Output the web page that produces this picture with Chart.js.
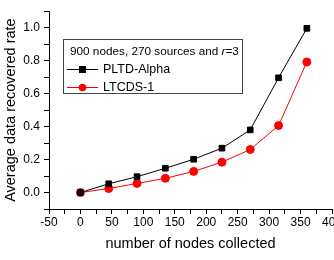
<!DOCTYPE html>
<html>
<head>
<meta charset="utf-8">
<script src="https://cdn.jsdelivr.net/npm/chart.js@4"></script>
<style>
  html, body { margin: 0; padding: 0; background: #fff; overflow: hidden; }
  #wrap { width: 345px; height: 260px; }
</style>
</head>
<body>
<div id="wrap"><canvas id="chart"></canvas></div>
<script>
const nodesCollected = [0, 45, 90, 135, 180, 225, 270, 315, 360];
const pltdAlpha = [0, 0.053, 0.096, 0.147, 0.202, 0.269, 0.38, 0.696, 0.996];
const ltcds1 = [0, 0.024, 0.055, 0.086, 0.128, 0.184, 0.261, 0.406, 0.792];
const seriesNames = ['PLTD-Alpha', 'LTCDS-1'];
const legendTitle = '900 nodes, 270 sources and ';

const font = 'Liberation Sans, Arial, sans-serif';

// legend box drawn inside the plot, like the original figure
const boxLegend = {
    id: 'boxLegend',
    afterDraw(chart){
        const ctx = chart.ctx;
        const x0 = 63, y0 = 39, w = 179, h = 54;
        ctx.save();
        ctx.fillStyle = '#fff';
        ctx.fillRect(x0, y0, w, h);
        ctx.strokeStyle = '#444';
        ctx.lineWidth = 1;
        ctx.strokeRect(x0 + 0.5, y0 + 0.5, w, h);

        ctx.fillStyle = '#000';
        ctx.textBaseline = 'middle';
        ctx.font = '11.75px ' + font;
        ctx.fillText(legendTitle, 70, 52);
        let tw = ctx.measureText(legendTitle).width;
        ctx.font = 'italic 11.75px ' + font;
        ctx.fillText('r', 70 + tw, 52);
        tw += ctx.measureText('r').width;
        ctx.font = '11.75px ' + font;
        ctx.fillText('=3', 70 + tw, 52);

        const rows = [
            {y: 69, color: '#000', shape: 'rect'},
            {y: 87, color: '#ff0000', shape: 'circle'}
        ];
        rows.forEach((r, i) => {
            ctx.strokeStyle = r.color;
            ctx.beginPath();
            ctx.moveTo(67, r.y + 0.5);
            ctx.lineTo(98, r.y + 0.5);
            ctx.stroke();
            ctx.fillStyle = r.color;
            if(r.shape === 'rect'){
                ctx.fillRect(79, r.y - 3, 7, 7);
            } else {
                ctx.beginPath();
                ctx.arc(82.5, r.y + 0.5, 3.8, 0, Math.PI * 2);
                ctx.fill();
            }
            ctx.fillStyle = '#000';
            ctx.font = '12.5px ' + font;
            ctx.fillText(seriesNames[i], 103, r.y + 1);
        });
        ctx.restore();
    }
};

const ctx = document.getElementById('chart').getContext('2d');
new Chart(ctx, {
    type: 'line',
    data: {
        datasets: [{
            label: seriesNames[0],
            data: nodesCollected.map((x, i) => ({x: x, y: pltdAlpha[i]})),
            borderColor: '#000',
            backgroundColor: '#000',
            borderWidth: 1,
            pointStyle: 'rect',
            pointRadius: 4,
            tension: 0
        }, {
            label: seriesNames[1],
            data: nodesCollected.map((x, i) => ({x: x, y: ltcds1[i]})),
            borderColor: '#ff0000',
            backgroundColor: '#ff0000',
            borderWidth: 1,
            pointStyle: 'circle',
            pointRadius: 4,
            tension: 0
        }]
    },
    options: {
        responsive: true,
        maintainAspectRatio: false,
        animation: false,
        layout: { padding: { top: 5, right: 13, left: 0, bottom: 0 } },
        plugins: { legend: { display: false }, tooltip: { enabled: false } },
        scales: {
            x: {
                type: 'linear',
                min: -50,
                max: 400,
                afterFit(scale){ scale.height = 51; },
                ticks: {
                    stepSize: 25,
                    autoSkip: false,
                    maxRotation: 0,
                    padding: 1,
                    color: '#000',
                    font: { family: font, size: 12 },
                    callback: v => (v % 50 === 0 ? String(v) : '')
                },
                grid: { drawOnChartArea: false, tickLength: 5, color: '#000', tickColor: '#000' },
                border: { color: '#000', width: 1 },
                title: {
                    display: true,
                    text: 'number of nodes collected',
                    color: '#000',
                    font: { family: font, size: 14.5 },
                    padding: { top: 0, bottom: 7 }
                }
            },
            y: {
                min: -0.1,
                max: 1.1,
                afterFit(scale){ scale.width = 49; },
                ticks: {
                    stepSize: 0.1,
                    autoSkip: false,
                    padding: 4,
                    color: '#000',
                    font: { family: font, size: 12 },
                    callback: function(v){
                        const k = Math.round(v * 10);
                        if(k < 0 || k > 10 || k % 2 !== 0) return '';
                        return (k / 10).toFixed(1);
                    }
                },
                grid: { drawOnChartArea: false, tickLength: 5, color: '#000', tickColor: '#000' },
                border: { color: '#000', width: 1 },
                title: {
                    display: true,
                    text: 'Average data recovered rate',
                    color: '#000',
                    font: { family: font, size: 14.5 },
                    padding: { top: 2, bottom: 0 }
                }
            }
        }
    },
    plugins: [boxLegend]
});
</script>
</body>
</html>
